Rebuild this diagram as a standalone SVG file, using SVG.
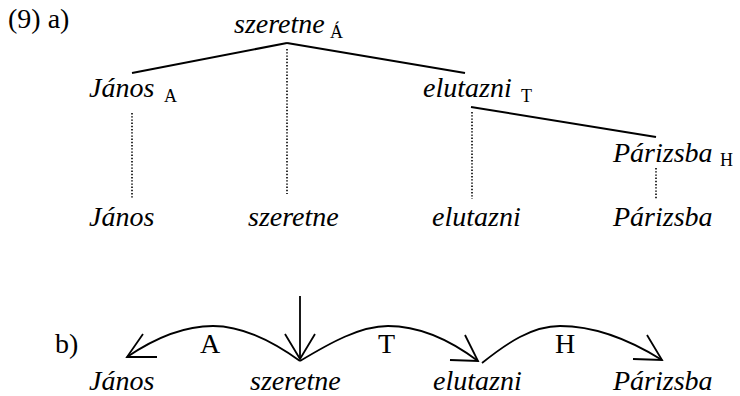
<svg xmlns="http://www.w3.org/2000/svg" width="740" height="396" viewBox="0 0 740 396">
<style>
.w{font-size:28px;font-style:italic}
.r{font-size:28px}
.s{font-size:18px}
.tl{stroke:#000;stroke-width:2;fill:none}
.dot{stroke:#000;stroke-width:1.6;stroke-dasharray:1.4 1.8;fill:none}
.arc{stroke:#000;stroke-width:1.8;fill:none}
</style>
<rect width="740" height="396" fill="#fff"/>
<g font-family="'Liberation Serif', 'DejaVu Serif', serif" fill="#000">
<text class="r" x="8" y="28">(9) a)</text>
<g id="t-szeretne"><text class="w" x="234" y="33">szeretne</text><text class="s" x="330" y="38">Á</text></g>
<g id="t-janos"><text class="w" x="89" y="97">János</text><text class="s" x="164" y="102">A</text></g>
<g id="t-elutazni"><text class="w" x="423" y="97">elutazni</text><text class="s" x="521" y="102">T</text></g>
<g id="t-parizsba"><text class="w" x="613" y="162">Párizsba</text><text class="s" x="720" y="166">H</text></g>
<g id="w-janos"><text class="w" x="89" y="226">János</text></g>
<g id="w-szeretne"><text class="w" x="248" y="226">szeretne</text></g>
<g id="w-elutazni"><text class="w" x="432" y="226">elutazni</text></g>
<g id="w-parizsba"><text class="w" x="613" y="226">Párizsba</text></g>
<text class="r" x="55" y="353">b)</text>
<g id="lbl-A"><text class="r" x="200" y="353">A</text></g>
<g id="lbl-T"><text class="r" x="378" y="353">T</text></g>
<g id="lbl-H"><text class="r" x="555" y="353">H</text></g>
<g id="b-janos"><text class="w" x="89" y="390">János</text></g>
<g id="b-szeretne"><text class="w" x="250" y="390">szeretne</text></g>
<g id="b-elutazni"><text class="w" x="433" y="390">elutazni</text></g>
<g id="b-parizsba"><text class="w" x="613" y="390">Párizsba</text></g>
</g>
<g id="tree-edges">
<line class="tl" x1="287" y1="43" x2="132" y2="73"/>
<line class="tl" x1="287" y1="43" x2="465" y2="73"/>
<line class="tl" x1="471" y1="107" x2="656" y2="137"/>
<line class="dot" x1="287" y1="49" x2="287" y2="194"/>
<line class="dot" x1="132" y1="113" x2="132" y2="198"/>
<line class="dot" x1="472" y1="112" x2="472" y2="199"/>
<line class="dot" x1="656" y1="168" x2="656" y2="199"/>
</g>
<g id="dep-arcs">
<line class="arc" x1="300" y1="296" x2="300" y2="359"/>
<polyline class="arc" points="285,334 300,359 315,334"/>
<path class="arc" d="M300,361 C275,343 245,326 213,326 C182,326 152,340 127,357"/>
<polyline class="arc" points="143,334 127,357 157,357"/>
<path class="arc" d="M300,361 C330,343 360,326 388,326 C420,326 450,340 478,361"/>
<polyline class="arc" points="465,335 478,361 450,360"/>
<path class="arc" d="M482,363 C507,343 532,326 560,326 C595,326 630,340 662,360"/>
<polyline class="arc" points="647,335 662,360 633,359"/>
</g>
</svg>
